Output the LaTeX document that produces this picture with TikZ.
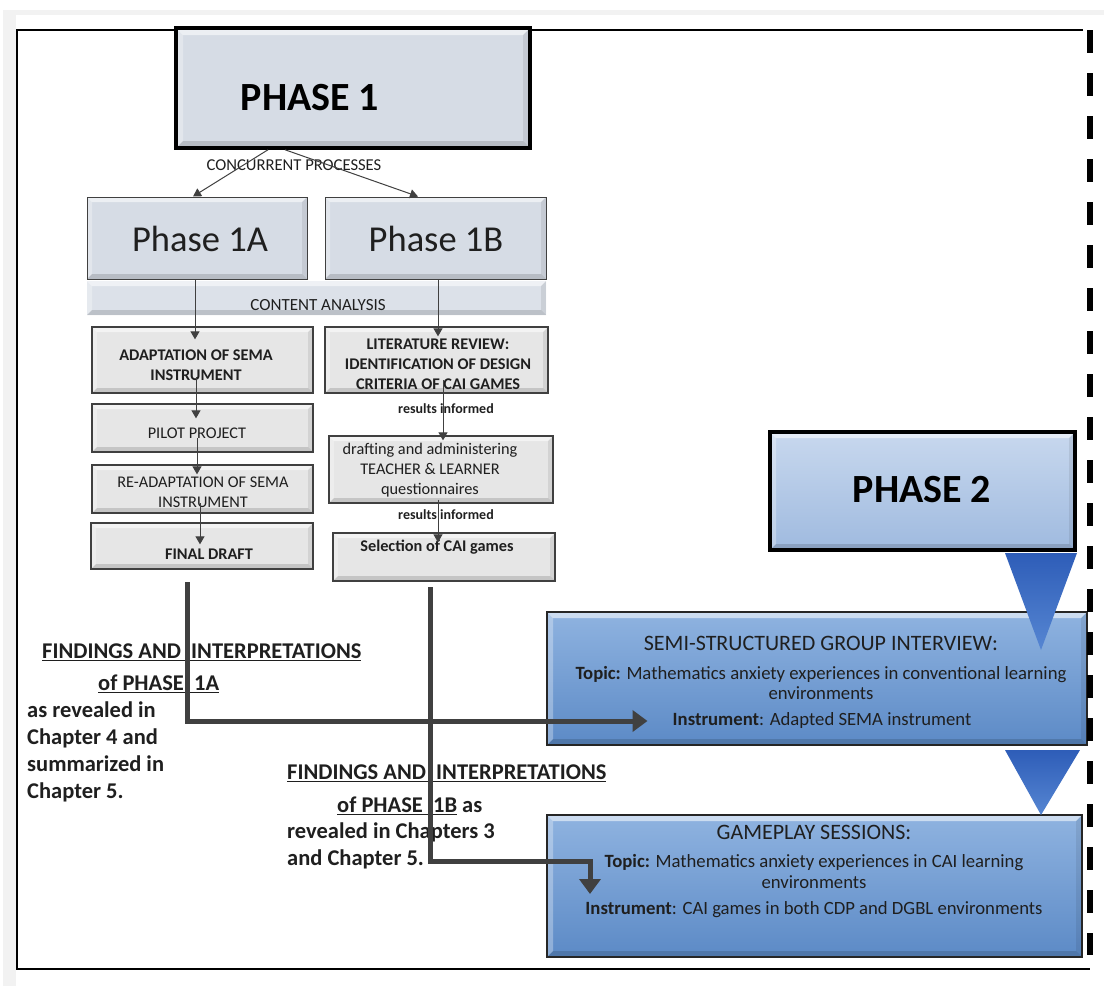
\documentclass[tikz,border=0pt]{standalone}
\usepackage{fontspec}
\setmainfont{Carlito}
\usetikzlibrary{arrows.meta}
\definecolor{conn}{HTML}{404040}
\definecolor{grayfill}{HTML}{E6E6E6}
\definecolor{phfill}{HTML}{D6DCE5}
\definecolor{txt}{HTML}{1F1F1F}
\definecolor{blue1}{HTML}{8FB3E0}
\definecolor{blue2}{HTML}{5C8AC6}
\definecolor{p2top}{HTML}{C8D8EE}
\definecolor{p2bot}{HTML}{9FBADF}
\definecolor{tri1}{HTML}{2E5DB8}
\definecolor{tri2}{HTML}{5686D2}
\tikzset{
  bevel/.style={path picture={
    \fill[white,opacity=0.55] (path picture bounding box.north west) -- (path picture bounding box.north east) -- ([shift={(-#1,-#1)}]path picture bounding box.north east) -- ([shift={(#1,-#1)}]path picture bounding box.north west) -- cycle;
    \fill[white,opacity=0.3] (path picture bounding box.north west) -- ([shift={(#1,-#1)}]path picture bounding box.north west) -- ([shift={(#1,#1)}]path picture bounding box.south west) -- (path picture bounding box.south west) -- cycle;
    \fill[black,opacity=0.14] (path picture bounding box.south west) -- ([shift={(#1,#1)}]path picture bounding box.south west) -- ([shift={(-#1,#1)}]path picture bounding box.south east) -- (path picture bounding box.south east) -- cycle;
    \fill[black,opacity=0.08] (path picture bounding box.south east) -- ([shift={(-#1,#1)}]path picture bounding box.south east) -- ([shift={(-#1,-#1)}]path picture bounding box.north east) -- (path picture bounding box.north east) -- cycle;
  }},
  graybox/.style={draw=conn, line width=1.3pt, fill=grayfill, bevel=5pt, inner sep=0pt, rectangle},
  phbox/.style={draw=conn, line width=1pt, fill=phfill, bevel=5pt, inner sep=0pt, rectangle},
  bluebox/.style={draw=black!85, line width=1.4pt, top color=blue1, bottom color=blue2, bevel=6pt, inner sep=0pt, rectangle},
  bigbox/.style={draw=black, line width=3.5pt, inner sep=0pt, rectangle},
  lbl/.style={inner sep=0pt, text=txt, align=center},
  thinarrow/.style={draw=conn, line width=1pt, -{Triangle[width=9pt,length=8pt]}},
  thickconn/.style={draw=conn, line width=5pt, -{Triangle[width=21pt,length=15pt]}},
  tri/.style={top color=tri1, bottom color=tri2, draw=none},
  boxtext/.style={lbl, font=\fontsize{16.3}{20}\selectfont},
  boxbold/.style={lbl, font=\fontsize{16.3}{20}\selectfont\bfseries},
  bluetitle/.style={lbl, font=\fontsize{22}{24}\selectfont},
  bluetext/.style={lbl, font=\fontsize{18.7}{20.5}\selectfont},
  phasetitle/.style={lbl, font=\fontsize{40}{44}\selectfont\bfseries, text=black},
}
\begin{document}
\begin{tikzpicture}[x=1pt,y=-1pt]
\useasboundingbox (0,0) rectangle (1104,986);
\fill[white] (0,0) rectangle (1104,986);
% page shadow
\fill[black!5] (3,10) rectangle (1104,15);
\fill[black!5] (3,10) rectangle (16,986);
% outer frame
\draw[line width=2.2pt] (1083,30) -- (17,30) -- (17,969) -- (1090,969);

% PHASE 1
\node[bigbox, fill=phfill, bevel=7pt, minimum width=354pt, minimum height=120pt] (p1) at (353,88) {};
\node[phasetitle] (p1t) at (310,98) {PHASE 1};

% Phase 1A / 1B
\node[phbox, minimum width=220pt, minimum height=82pt] (p1a) at (197,238) {};
\node[phbox, minimum width=221pt, minimum height=82pt] (p1b) at (435.5,238) {};
\node[lbl, font=\fontsize{36.5}{40}\selectfont] (p1at) at (200,239) {Phase 1A};
\node[lbl, font=\fontsize{36.5}{40}\selectfont] (p1bt) at (436,239) {Phase 1B};
% content analysis band
\node[rectangle, fill=phfill!85!white, bevel=5pt, inner sep=0pt, minimum width=459pt, minimum height=34pt] (ca) at (316.5,298) {};
\node[lbl, font=\fontsize{17}{20}\selectfont] (cat) at (318,305) {CONTENT ANALYSIS};

\node[lbl, font=\fontsize{16.6}{18}\selectfont] (cp) at (294,165) {CONCURRENT PROCESSES};
\draw[thinarrow] ([xshift=-85pt]p1.south) -- ([xshift=-4pt]p1a.north);
\draw[thinarrow] ([xshift=-68pt]p1.south) -- ([xshift=-17.5pt]p1b.north);

% left column
\node[graybox, minimum width=221pt, minimum height=66pt] (ad) at (202.5,360) {};
\node[boxbold] (adt) at (196,365) {ADAPTATION OF SEMA\\INSTRUMENT};
\node[graybox, minimum width=221pt, minimum height=48pt] (pi) at (202.5,428) {};
\node[boxtext] (pit) at (197,433) {PILOT PROJECT};
\node[graybox, minimum width=221pt, minimum height=48pt] (re) at (202.5,489) {};
\node[boxtext] (ret) at (203,492) {RE-ADAPTATION OF SEMA\\INSTRUMENT};
\node[graybox, minimum width=222pt, minimum height=46pt] (fd) at (202,546) {};
\node[boxbold] (fdt) at (209,554) {FINAL DRAFT};

% right column
\node[graybox, minimum width=223pt, minimum height=66pt] (lr) at (436.5,360) {};
\node[boxbold] (lrt) at (438,364) {LITERATURE REVIEW:\\IDENTIFICATION OF DESIGN\\CRITERIA OF CAI GAMES};
\node[graybox, minimum width=224pt, minimum height=67pt] (dr) at (441,469.5) {};
\node[boxtext] (drt) at (430,470) {drafting and administering\\TEACHER \& LEARNER\\questionnaires};
\node[graybox, minimum width=222pt, minimum height=48pt] (sel) at (444,557) {};
\node[boxbold] (selt) at (437,547) {Selection of CAI games};
\node[lbl, font=\fontsize{14}{16}\selectfont\bfseries] (ri1) at (446,409) {results informed};
\node[lbl, font=\fontsize{14}{16}\selectfont\bfseries] (ri2) at (446,515) {results informed};

% thin arrows
\draw[thinarrow] ([xshift=-2pt]p1a.south) -- ([xshift=-7.5pt,yshift=-13pt]ad.north);
\draw[thinarrow] ([xshift=-6.5pt,yshift=-17pt]ad.center) -- ([xshift=-6.5pt,yshift=-15pt]pi.north);
\draw[thinarrow] ([xshift=-5.5pt,yshift=-10pt]pi.center) -- ([xshift=-5.5pt,yshift=-10pt]re.north);
\draw[thinarrow] ([xshift=-2.5pt,yshift=-14pt]re.center) -- ([xshift=-2pt,yshift=-22pt]fd.north);
\draw[thinarrow] ([xshift=2.5pt]p1b.south) -- ([xshift=1.5pt,yshift=-10pt]lr.north);
\draw[thinarrow] ([xshift=6.5pt,yshift=-20pt]lr.center) -- ([xshift=2pt,yshift=-5pt]dr.north);
\draw[thinarrow] ([xshift=-3pt,yshift=-30pt]dr.center) -- ([xshift=-6pt,yshift=-10pt]sel.north);

% PHASE 2
\node[bigbox, top color=p2top, bottom color=p2bot, bevel=6pt, minimum width=305pt, minimum height=118pt] (p2) at (922.5,491) {};
\node[phasetitle] (p2t) at (922,490) {PHASE 2};

% blue boxes
\node[bluebox, minimum width=540pt, minimum height=133pt] (semi) at (817,678.5) {};
\node[bluetitle] (s1) at (821,643) {SEMI-STRUCTURED GROUP INTERVIEW:};
\node[bluetext] (s2) at (821,683) {\textbf{Topic:} Mathematics anxiety experiences in conventional learning\\environments};
\node[bluetext] (s3) at (822,721) {\textbf{Instrument}: Adapted SEMA instrument};

\node[bluebox, minimum width=535pt, minimum height=142pt] (game) at (814.5,886) {};
\node[bluetitle] (g1) at (814,832) {GAMEPLAY SESSIONS:};
\node[bluetext] (g2) at (814,871.5) {\textbf{Topic:} Mathematics anxiety experiences in CAI learning\\environments};
\node[bluetext] (g3) at (814,910) {\textbf{Instrument}: CAI games in both CDP and DGBL environments};

% triangles
\path[tri] (1005,553) -- (1077,553) -- (1041,650) -- cycle;
\path[tri] (1005,750) -- (1080,750) -- (1041,815) -- cycle;

% findings texts
\begin{scope}[every node/.style={lbl, anchor=west, align=left, font=\fontsize{22.5}{27}\selectfont\bfseries}]
\node (f1a) at (42,652) {\underline{FINDINGS AND\ \ INTERPRETATIONS}};
\node (f1b) at (98,684) {\underline{of PHASE\ \ 1A}};
\node (f1c) at (27,751.5) {as revealed in\\Chapter 4 and\\summarized in\\Chapter 5.};
\node (f2a) at (287,773) {\underline{FINDINGS AND\ \ INTERPRETATIONS}};
\node (f2b) at (337,806) {\underline{of PHASE\ \ 1B} as};
\node (f2c) at (287,845.5) {revealed in Chapters 3\\and Chapter 5.};
\end{scope}

% thick connectors
\coordinate (fa) at (187,582);
\coordinate (fb) at (430,587);
\coordinate (fbc) at (590,861);
\coordinate (fbt) at (590,894);
\draw[thickconn] (fa) |- ([xshift=-25pt]s3.west);
\draw[thickconn] (fb) |- (fbc) -- (fbt);

% dashed right border
\draw[line width=6pt, dash pattern=on 23pt off 20pt] (1090,30) -- (1090,955);
\end{tikzpicture}
\end{document}
